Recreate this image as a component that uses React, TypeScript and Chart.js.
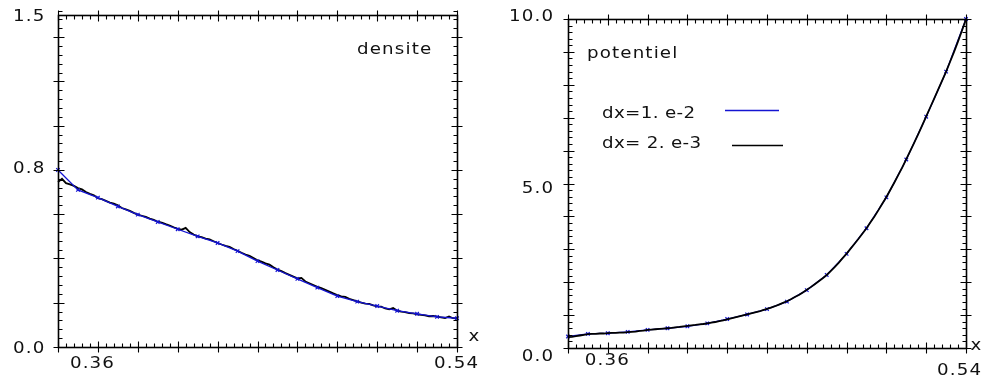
import React, { useEffect, useRef } from "react";
import { Chart, registerables } from "chart.js";

Chart.register(...registerables);

// ---------- data ----------
const X_MIN = 0.34;
const X_MAX = 0.54;

// coarse grid, dx = 1.e-2
const COARSE_X = [0.34, 0.35, 0.36, 0.37, 0.38, 0.39, 0.40, 0.41, 0.42, 0.43, 0.44, 0.45, 0.46, 0.47, 0.48, 0.49, 0.50, 0.51, 0.52, 0.53, 0.54];
const DENSITY_COARSE = [0.80, 0.71, 0.675, 0.635, 0.598, 0.565, 0.532, 0.50, 0.47, 0.433, 0.388, 0.348, 0.308, 0.268, 0.230, 0.205, 0.185, 0.164, 0.150, 0.136, 0.130];
const POTENTIAL_COARSE = [0.35, 0.43, 0.45, 0.49, 0.55, 0.60, 0.66, 0.75, 0.88, 1.02, 1.18, 1.41, 1.76, 2.22, 2.86, 3.64, 4.58, 5.73, 7.03, 8.40, 10.0];

// fine grid, dx = 2.e-3, starting at 0.34
const FINE_START = 0.34;
const FINE_STEP = 0.002;
const DENSITY_FINE = [
  0.745, 0.760, 0.740, 0.735, 0.728, 0.718, 0.712, 0.700, 0.692, 0.685,
  0.672, 0.668, 0.660, 0.652, 0.648, 0.640, 0.628, 0.622, 0.615, 0.606,
  0.598, 0.593, 0.588, 0.580, 0.574, 0.566, 0.562, 0.555, 0.549, 0.541,
  0.534, 0.530, 0.538, 0.519, 0.508, 0.500, 0.496, 0.490, 0.486, 0.478,
  0.470, 0.463, 0.457, 0.452, 0.443, 0.435, 0.426, 0.418, 0.412, 0.402,
  0.392, 0.386, 0.378, 0.372, 0.360, 0.350, 0.343, 0.334, 0.326, 0.318,
  0.310, 0.312, 0.296, 0.288, 0.280, 0.272, 0.266, 0.258, 0.250, 0.242,
  0.235, 0.229, 0.226, 0.218, 0.212, 0.206, 0.201, 0.196, 0.195, 0.188,
  0.184, 0.182, 0.174, 0.170, 0.176, 0.164, 0.160, 0.158, 0.153, 0.152,
  0.148, 0.145, 0.143, 0.139, 0.140, 0.137, 0.134, 0.131, 0.138, 0.130,
  0.129,
];
const POTENTIAL_FINE = [
  0.33, 0.34, 0.36, 0.38, 0.40, 0.42, 0.43, 0.43, 0.44, 0.44,
  0.45, 0.46, 0.46, 0.47, 0.47, 0.48, 0.49, 0.50, 0.52, 0.53,
  0.55, 0.56, 0.57, 0.58, 0.59, 0.60, 0.61, 0.63, 0.64, 0.66,
  0.67, 0.69, 0.70, 0.72, 0.73, 0.75, 0.77, 0.79, 0.82, 0.84,
  0.87, 0.90, 0.93, 0.96, 0.99, 1.02, 1.05, 1.08, 1.11, 1.15,
  1.19, 1.23, 1.27, 1.32, 1.37, 1.42, 1.48, 1.55, 1.61, 1.69,
  1.77, 1.85, 1.94, 2.03, 2.12, 2.22, 2.34, 2.46, 2.59, 2.73,
  2.87, 3.02, 3.17, 3.32, 3.48, 3.64, 3.82, 4.00, 4.19, 4.39,
  4.59, 4.81, 5.03, 5.26, 5.49, 5.74, 5.99, 6.24, 6.50, 6.77,
  7.04, 7.31, 7.58, 7.85, 8.13, 8.40, 8.70, 9.00, 9.32, 9.65,
  10.00,
];

const X_TICK_VALUES = [0.36, 0.54];
const X_TICK_LABELS = ["0.36", "0.54"];
const DENSITY_Y_VALUES = [0, 0.8, 1.5];
const DENSITY_Y_LABELS = ["0.0", "0.8", "1.5"];
const POTENTIAL_Y_VALUES = [0, 5, 10];
const POTENTIAL_Y_LABELS = ["0.0", "5.0", "10.0"];
const LEGEND_LABELS = ["dx=1. e-2", "dx= 2. e-3"];
const TITLES = ["densite", "potentiel"];
const X_AXIS_NAME = "x";

const BLUE = "#1414d2";
const BLACK = "#000000";
const FONT = '16px "DejaVu Sans", sans-serif';
const STRETCH = 1.14;

function pairs(xs: number[], ys: number[]) {
  return ys.map((v, i) => ({ x: xs[i], y: v }));
}
function finePairs(ys: number[]) {
  return ys.map((v, i) => ({ x: +(FINE_START + i * FINE_STEP).toFixed(3), y: v }));
}

function drawText(ctx: CanvasRenderingContext2D, text: string, x: number, y: number, align: "left" | "right" | "center", spacing: number) {
  (ctx as any).letterSpacing = spacing + "px";
  ctx.textAlign = "left";
  const w = (ctx.measureText(text).width - spacing) * STRETCH;
  let left = x;
  if (align === "right") left = x - w;
  else if (align === "center") left = x - w / 2;
  ctx.save();
  ctx.translate(left, y);
  ctx.scale(STRETCH, 1);
  ctx.fillText(text, 0, 0);
  ctx.restore();
}

type FrameCfg = {
  yMin: number; yMax: number; yMajor: number; yMinor: number;
  xMajor: number; xMinor: number;
  yLabels: { v: number; t: string; dy: number }[];
  yAlign: "left" | "right"; yLabelX: number;
  xLabels: { v: number; t: string; dx: number; dy: number }[];
  axisName: { dx: number; dy: number };
  title: { t: string; x: number; y: number };
  legend?: { t: string; color: string; tx: number; ty: number; lx1: number; lx2: number; ly: number }[];
};

function framePlugin(cfg: FrameCfg) {
  return {
    id: "frame",
    afterDraw(chart: any) {
      const { ctx, chartArea: a, scales } = chart;
      const xs = scales.x;
      const ys = scales.y;
      const L = Math.round(a.left) + 0.5;
      const R = Math.round(a.right) + 0.5;
      const T = Math.round(a.top) + 0.5;
      const B = Math.round(a.bottom) + 0.5;
      ctx.save();
      ctx.strokeStyle = "#000";
      ctx.lineWidth = 1.6;
      ctx.strokeRect(L, T, R - L, B - T);
      ctx.lineWidth = 1.1;
      ctx.beginPath();
      const nY = Math.round((cfg.yMax - cfg.yMin) / cfg.yMinor);
      for (let k = 0; k <= nY; k++) {
        const v = cfg.yMin + k * cfg.yMinor;
        const p = Math.round(ys.getPixelForValue(v)) + 0.5;
        const r = v / cfg.yMajor;
        const major = Math.abs(r - Math.round(r)) < 1e-6;
        if (major) {
          ctx.moveTo(L - 5, p); ctx.lineTo(L + 6, p);
          ctx.moveTo(R - 6, p); ctx.lineTo(R + 5, p);
        } else {
          ctx.moveTo(L, p); ctx.lineTo(L + 4, p);
          ctx.moveTo(R - 4, p); ctx.lineTo(R, p);
        }
      }
      const nX = Math.round((X_MAX - X_MIN) / cfg.xMinor);
      for (let k = 0; k <= nX; k++) {
        const v = X_MIN + k * cfg.xMinor;
        const p = Math.round(xs.getPixelForValue(v)) + 0.5;
        const r = v / cfg.xMajor;
        const major = Math.abs(r - Math.round(r)) < 1e-6;
        if (major) {
          ctx.moveTo(p, B + 5); ctx.lineTo(p, B - 6);
          ctx.moveTo(p, T - 5); ctx.lineTo(p, T + 6);
        } else {
          ctx.moveTo(p, B); ctx.lineTo(p, B - 4);
          ctx.moveTo(p, T); ctx.lineTo(p, T + 4);
        }
      }
      ctx.stroke();

      ctx.fillStyle = "#111";
      ctx.font = FONT;
      ctx.textBaseline = "middle";
      cfg.yLabels.forEach((l) => {
        drawText(ctx, l.t, cfg.yLabelX, ys.getPixelForValue(l.v) + l.dy, cfg.yAlign, 1);
      });
      cfg.xLabels.forEach((l) => {
        drawText(ctx, l.t, xs.getPixelForValue(l.v) + l.dx, a.bottom + l.dy, "center", 1);
      });
      drawText(ctx, X_AXIS_NAME, a.right + cfg.axisName.dx, a.bottom + cfg.axisName.dy, "center", 0);
      ctx.textBaseline = "alphabetic";
      drawText(ctx, cfg.title.t, cfg.title.x, cfg.title.y, "left", 1);
      if (cfg.legend) {
        cfg.legend.forEach((g) => {
          ctx.fillStyle = "#111";
          drawText(ctx, g.t, g.tx, g.ty, "left", 0.3);
          ctx.strokeStyle = g.color;
          ctx.lineWidth = 1.5;
          ctx.beginPath();
          ctx.moveTo(g.lx1, g.ly);
          ctx.lineTo(g.lx2, g.ly);
          ctx.stroke();
        });
      }
      ctx.restore();
    },
  };
}

function makeConfig(coarse: number[], fine: number[], yMin: number, yMax: number, padding: any, blackOnTop: boolean, frame: FrameCfg): any {
  return {
    type: "line",
    data: {
      datasets: [
        {
          label: LEGEND_LABELS[1],
          data: finePairs(fine),
          borderColor: BLACK,
          borderWidth: 1.8,
          pointRadius: 0,
          tension: 0,
          order: blackOnTop ? 1 : 2,
          clip: false,
        },
        {
          label: LEGEND_LABELS[0],
          data: pairs(COARSE_X, coarse),
          borderColor: BLUE,
          backgroundColor: BLUE,
          borderWidth: 1.3,
          pointStyle: "crossRot",
          pointRadius: 2.5,
          pointBorderWidth: 1.2,
          pointBorderColor: BLUE,
          tension: 0,
          order: blackOnTop ? 2 : 1,
          clip: false,
        },
      ],
    },
    options: {
      animation: false,
      responsive: false,
      devicePixelRatio: 1,
      layout: { padding },
      plugins: { legend: { display: false }, tooltip: { enabled: false }, title: { display: false } },
      scales: {
        x: { type: "linear", min: X_MIN, max: X_MAX, display: false },
        y: { type: "linear", min: yMin, max: yMax, display: false },
      },
    },
    plugins: [framePlugin(frame)],
  };
}

function Panel({ left, width, config }: { left: number; width: number; config: any }) {
  const ref = useRef<HTMLCanvasElement | null>(null);
  useEffect(() => {
    if (!ref.current) return;
    const chart = new Chart(ref.current, config);
    return () => chart.destroy();
  }, []);
  return (
    <canvas
      ref={ref}
      width={width}
      height={383}
      style={{ position: "absolute", left, top: 0, width, height: 383, display: "block" }}
    />
  );
}

export default function App() {
  const densityCfg = makeConfig(
    DENSITY_COARSE, DENSITY_FINE, 0, 1.5,
    { left: 58, right: 33, top: 15, bottom: 36 },
    false,
    {
      yMin: 0, yMax: 1.5, yMajor: 0.2, yMinor: 0.04, xMajor: 0.02, xMinor: 0.004,
      yLabels: DENSITY_Y_VALUES.map((v, i) => ({ v, t: DENSITY_Y_LABELS[i], dy: [2, -1, 2][i] })),
      yAlign: "left", yLabelX: 13,
      xLabels: X_TICK_VALUES.map((v, i) => ({ v, t: X_TICK_LABELS[i], dx: [-6, -1][i], dy: 17 })),
      axisName: { dx: 17, dy: -10 },
      title: { t: TITLES[0], x: 357, y: 54 },
    }
  );
  const potentialCfg = makeConfig(
    POTENTIAL_COARSE, POTENTIAL_FINE, 0, 10,
    { left: 78, right: 19, top: 19, bottom: 35 },
    true,
    {
      yMin: 0, yMax: 10, yMajor: 1, yMinor: 0.2, xMajor: 0.02, xMinor: 0.004,
      yLabels: POTENTIAL_Y_VALUES.map((v, i) => ({ v, t: POTENTIAL_Y_LABELS[i], dy: [9, 5, -2][i] })),
      yAlign: "right", yLabelX: 63,
      xLabels: X_TICK_VALUES.map((v, i) => ({ v, t: X_TICK_LABELS[i], dx: [-1, -7][i], dy: [13, 23][i] })),
      axisName: { dx: 10, dy: -2 },
      title: { t: TITLES[1], x: 97, y: 58 },
      legend: [
        { t: LEGEND_LABELS[0], color: BLUE, tx: 112, ty: 118, lx1: 235, lx2: 289, ly: 110.5 },
        { t: LEGEND_LABELS[1], color: BLACK, tx: 112, ty: 148, lx1: 242, lx2: 293, ly: 145.5 },
      ],
    }
  );
  return (
    <div style={{ position: "fixed", left: 0, top: 0, width: 985, height: 383, background: "#fff" }}>
      <Panel left={0} width={490} config={densityCfg} />
      <Panel left={490} width={495} config={potentialCfg} />
    </div>
  );
}
